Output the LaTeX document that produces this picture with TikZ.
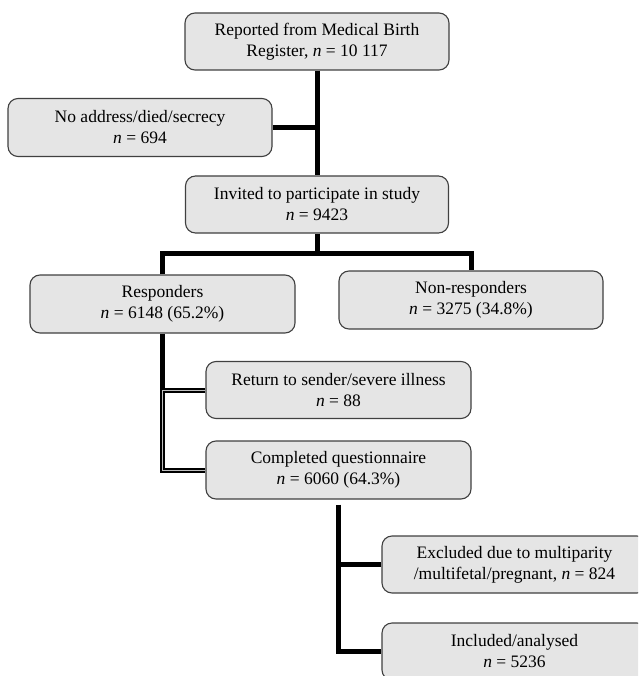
\documentclass[tikz,border=0pt]{standalone}
\usepackage{fontspec}
\setmainfont{Liberation Serif}
\usetikzlibrary{calc}
\tikzset{
  box/.style = {draw = black!75, fill = black!10, line width = 1.1pt, rounded corners = 10pt,
    minimum width = 265pt, minimum height = 58pt, inner sep = 0pt, align = center,
    font = \fontsize{17.5}{21}\selectfont, execute at begin node = {\rule{0pt}{25pt}}},
  trunk/.style = {draw, line width = 5pt},
  twin/.style = {draw, line width = 2pt, double = white!75!black, double distance = 1pt}
}
\newcommand{\nval}{\textit{n}~=~}
\begin{document}
\begin{tikzpicture}[x = 1pt, y = -1pt]
                \clip(0,0)rectangle(638,676);
                % boxes
                \node[box, minimum width = 264pt, minimum height = 57pt](rep)at(317,41.5){Reported from Medical Birth\\Register, \nval10~117};
                \node[box, minimum width = 264pt](noaddr)at(140,127.5){No address/died/secrecy\\\nval694};
                \node[box, minimum width = 263pt, minimum height = 57pt](inv)at(317,204.5){Invited to participate in study\\\nval9423};
                \node[box](resp)at(162.5,304){Responders\\\nval6148 (65.2\%)};
                \node[box, minimum width = 264pt](nonresp)at(471,300){Non-responders\\\nval3275 (34.8\%)};
                \node[box, minimum height = 57pt](ret)at(338.5,390){Return to sender/severe illness\\\nval88};
                \node[box](compl)at(338.5,470){Completed questionnaire\\\nval6060 (64.3\%)};
                \node[box, minimum height = 57pt](excl)at(514.5,564.5){Excluded due to multiparity\\/multifetal/pregnant, \nval824};
                \node[box, minimum height = 57pt](incl)at(514.5,651.5){Included/analysed\\\nval5236};
                % connectors
                \coordinate(split)at($(inv.south)+(0,20)$);
                \coordinate(r1)at(resp.south|-ret.west);
                \coordinate(c0)at($(compl.south)+(0,5)$);
                \path[trunk](rep.south)to(rep.south|-inv.north);
                \path[trunk](noaddr.east)to(noaddr.east-|rep.south);
                \path[trunk](inv.south)to(split);
                \path[trunk](resp.north)|-(split)-|(nonresp.north);
                \path[trunk](resp.south)to(r1);
                \path[twin](ret.west)--(r1)--(r1|-compl.west)--(compl.west);
                \path[trunk](c0)|-(incl.west);
                \path[trunk](excl.west)to(excl.west-|c0);
            \end{tikzpicture}
\end{document}
